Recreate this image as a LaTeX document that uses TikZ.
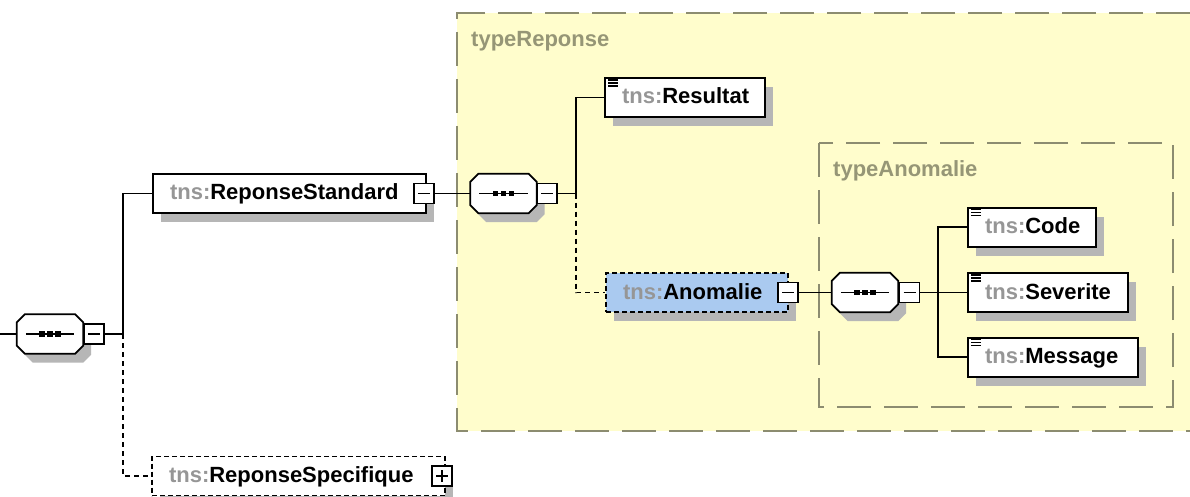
\documentclass[tikz,border=0pt]{standalone}
\usepackage{fontspec}
\setmainfont{Liberation Sans}
\usetikzlibrary{shadows}
\pgfdeclarelayer{grplayer}
\pgfdeclarelayer{connlayer}
\pgfsetlayers{grplayer,connlayer,main}
\definecolor{ylw}{RGB}{255,253,204}
\definecolor{grpline}{RGB}{140,140,112}
\definecolor{grptext}{RGB}{150,150,118}
\definecolor{anoblue}{RGB}{170,202,240}
\definecolor{shgray}{RGB}{182,182,182}
\definecolor{tnsgray}{RGB}{150,150,150}
\newcommand\tnsl[1]{\mbox{\textcolor{tnsgray}{tns:}#1}}
\newcommand\simpicon[1]{%
  \foreach \dy in {3,6,9} \draw[line width=1.2pt] ([xshift=4pt,yshift={-\dy pt}]#1.north west) -- ++(10pt,0);}
\newcommand\seqnode[3]{%
  \node[seqbox] (#1) at (#2,#3) {};
  \draw[line width=1.8pt, fill=white, shade] ([xshift=8pt]#1.north west) -- ([xshift=-8pt]#1.north east) -- ([yshift=-8pt]#1.north east) -- ([yshift=8pt]#1.south east) -- ([xshift=-8pt]#1.south east) -- ([xshift=8pt]#1.south west) -- ([yshift=8pt]#1.south west) -- ([yshift=-8pt]#1.north west) -- cycle;
  \draw[line width=1.4pt] ([xshift=9pt]#1.west) -- ([xshift=-9pt]#1.east);
  \foreach \dx in {-8,0,8} \fill ([xshift=\dx pt]#1.center) +(-2.8,-2.8) rectangle +(2.8,2.8);}
\begin{document}
\begin{tikzpicture}[x=1pt,y=1pt,
  shade/.style={drop shadow={shadow xshift=8pt,shadow yshift=-9pt,fill=shgray,opacity=1}},
  grp/.style={draw=grpline,line width=1.6pt,dash pattern=on 34pt off 13pt},
  grplabel/.style={inner sep=0pt,text=grptext,font=\fontsize{22}{26}\selectfont\bfseries},
  elem/.style={draw=black,line width=2pt,fill=white,shade,minimum height=39pt,
    inner xsep=17pt,inner ysep=0pt,text height=17pt,text depth=4pt,align=left,
    font=\fontsize{22}{26}\selectfont\bfseries},
  optelem/.style={elem,line width=1.8pt,dash pattern=on 5pt off 3pt},
  seqbox/.style={rectangle,minimum width=66pt,minimum height=39pt,inner sep=0pt},
  minus/.style={draw,line width=1.6pt,fill=white,minimum size=20pt,inner sep=0pt,
    path picture={\draw[line width=1.4pt] ([xshift=-6pt]path picture bounding box.center) -- ([xshift=6pt]path picture bounding box.center);}},
  plus/.style={minus,
    path picture={\draw[line width=1.4pt] ([xshift=-6pt]path picture bounding box.center) -- ([xshift=6pt]path picture bounding box.center);
      \draw[line width=1.4pt] ([yshift=-6pt]path picture bounding box.center) -- ([yshift=6pt]path picture bounding box.center);}},
  conn/.style={line width=1.8pt},
  dconn/.style={line width=1.8pt,dash pattern=on 5pt off 4pt}]
\useasboundingbox (0,0) rectangle (1190,-497);
% groups
\begin{pgfonlayer}{grplayer}
\fill[white] (0,0) rectangle (1190,-497);
\fill[ylw] (457,-13) rectangle (1190,-431);
\draw[grp] (1190,-13) -- (457,-13) -- (457,-431) -- (1190,-431);
\draw[grp] (819,-143) rectangle (1173,-407);
\end{pgfonlayer}
\node[grplabel,anchor=base west] (lblR) at (471,-47) {typeReponse};
\node[grplabel,anchor=base west] (lblA) at (833,-176) {typeAnomalie};
% junction coordinates
\coordinate (in) at (0,-334);
\coordinate (jA) at (123,-334);
\coordinate (jB) at (576,-193.5);
\coordinate (jC) at (938,-292.5);
% sequences
\seqnode{sA}{50}{-334}
\node[minus] (mA) at (94,-334) {};
\seqnode{sB}{503.5}{-193.5}
\node[minus] (mB) at (547,-193.5) {};
\seqnode{sC}{865}{-292.5}
\node[minus] (mC) at (909.5,-292.5) {};
% elements
\node[elem,text width=239pt] (RS) at (289.5,-193.5) {\tnsl{ReponseStandard}};
\node[minus] (mRS) at (424,-193.5) {};
\node[optelem,text width=259pt] (RSp) at (298.5,-476) {\tnsl{ReponseSpecifique}};
\node[plus] (pRSp) at (442,-476) {};
\node[elem,text width=126pt] (Res) at (685,-97.5) {\tnsl{Resultat}};
\simpicon{Res}
\node[optelem,fill=anoblue,text width=148pt] (Ano) at (697,-292.5) {\tnsl{Anomalie}};
\node[minus] (mAno) at (788,-292.5) {};
\node[elem,text width=94pt] (Code) at (1032,-227) {\tnsl{Code}};
\simpicon{Code}
\node[elem,text width=126pt] (Sev) at (1048,-292.5) {\tnsl{Severite}};
\simpicon{Sev}
\node[elem,text width=136pt] (Msg) at (1053,-357) {\tnsl{Message}};
\simpicon{Msg}
% connectors
\begin{pgfonlayer}{connlayer}
\draw[conn] (in) -- (sA.west);
\draw[conn] (mA.east) -- (jA);
\draw[conn] (jA) |- (RS.west);
\draw[dconn] (jA) |- (RSp.west);
\draw[conn] (mRS.east) -- (sB.west);
\draw[conn] (mB.east) -- (jB);
\draw[conn] (jB) |- (Res.west);
\draw[dconn] (jB) |- (Ano.west);
\draw[conn] (mAno.east) -- (sC.west);
\draw[conn] (mC.east) -- (jC);
\draw[conn] (jC) |- (Code.west);
\draw[conn] (jC) -- (Sev.west);
\draw[conn] (jC) |- (Msg.west);
\end{pgfonlayer}
\end{tikzpicture}
\end{document}
